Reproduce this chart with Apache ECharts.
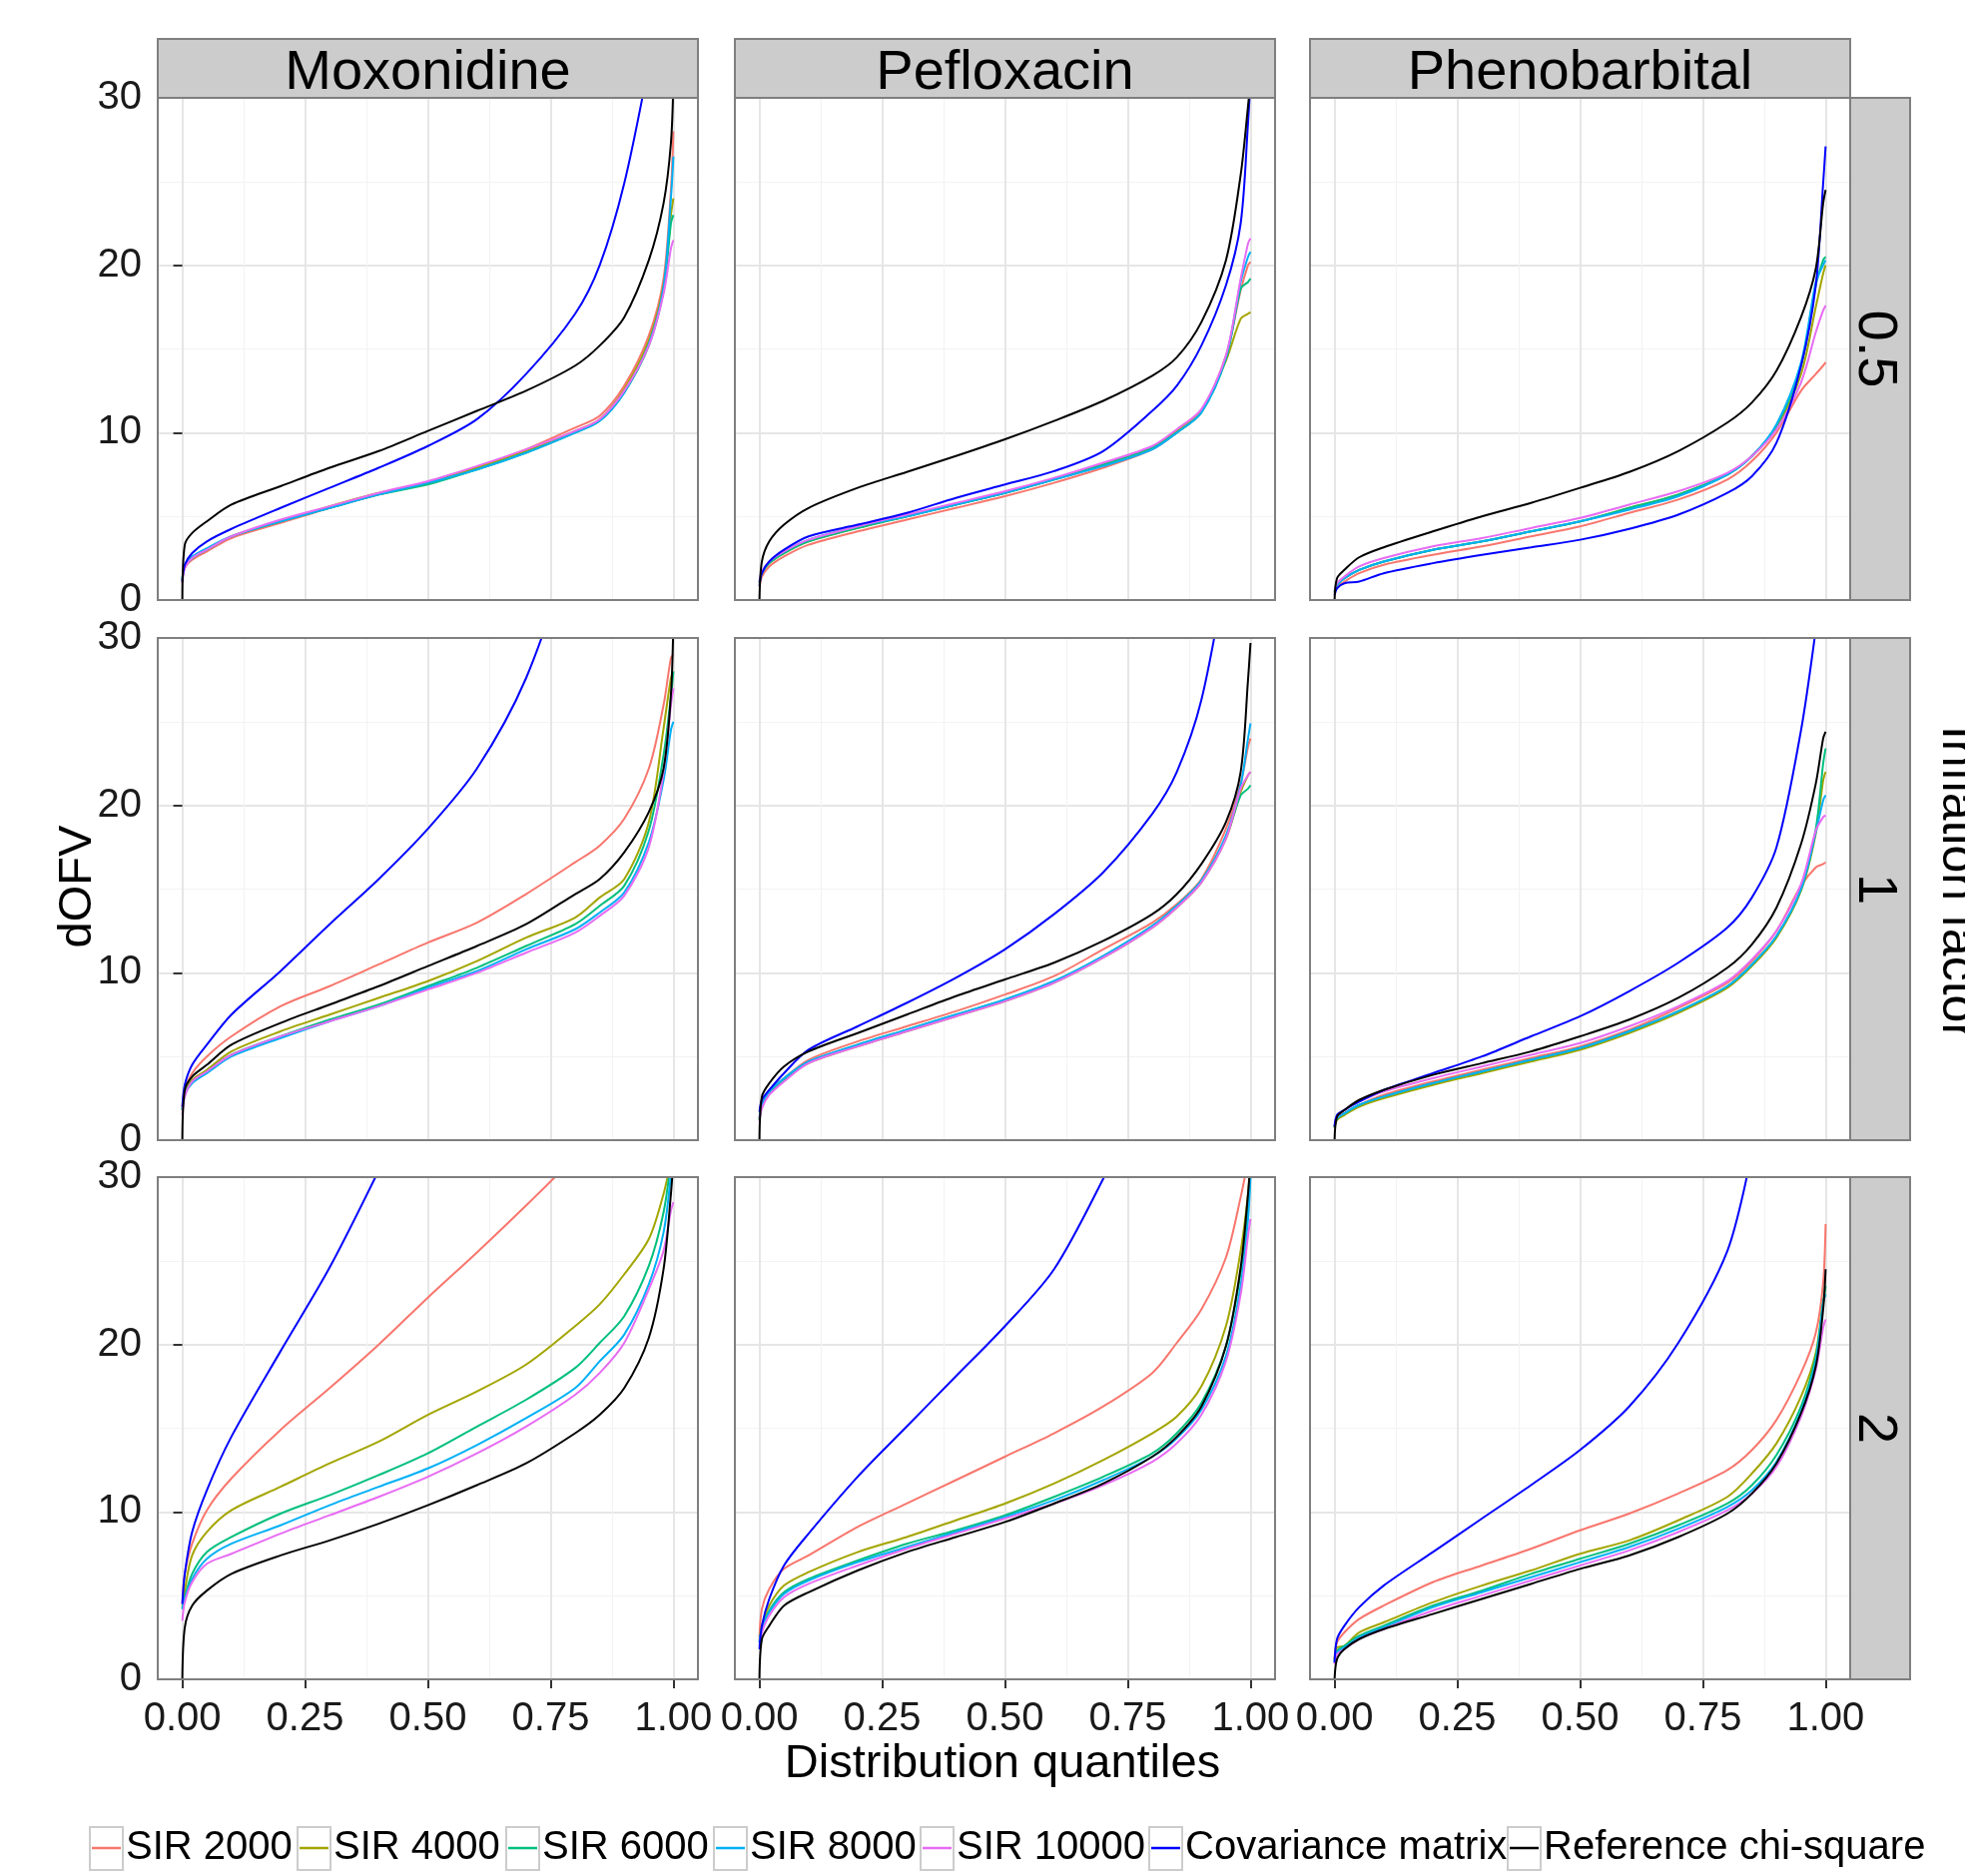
<!DOCTYPE html>
<html><head><meta charset="utf-8">
<script src="https://cdn.jsdelivr.net/npm/echarts@6/dist/echarts.min.js"></script>
<style>html,body{margin:0;padding:0;background:#fff}#c{width:1968px;height:1879px}</style>
</head><body><div id="c"></div>
<script>
// ---------- data ----------
const quantiles = [0, 0.005, 0.02, 0.05, 0.1, 0.2, 0.3, 0.4, 0.5, 0.6, 0.7, 0.8, 0.85, 0.9, 0.95, 0.98, 0.995, 1];
const drugs = ['Moxonidine', 'Pefloxacin', 'Phenobarbital'];
const inflationFactors = ['0.5', '1', '2'];
const seriesNames = ['SIR 2000', 'SIR 4000', 'SIR 6000', 'SIR 8000', 'SIR 10000', 'Covariance matrix', 'Reference chi-square'];
const xTickValues = [0, 0.25, 0.5, 0.75, 1];
const yTickValues = [0, 10, 20, 30];

// each panel: rows in seriesNames order, values at the quantiles above
const moxonidine_0_5 = [
  [1.0, 1.9, 2.4, 2.9, 3.7, 4.6, 5.5, 6.3, 7.0, 7.9, 9.0, 10.3, 11.0, 12.8, 15.8, 19.2, 24.5, 28],
  [1.2, 2.0, 2.5, 3.0, 3.8, 4.7, 5.6, 6.4, 7.0, 7.9, 8.9, 10.1, 10.8, 12.6, 15.5, 18.8, 23.0, 24],
  [1.2, 2.0, 2.5, 3.0, 3.8, 4.7, 5.5, 6.3, 6.9, 7.8, 8.8, 10.0, 10.7, 12.4, 15.2, 18.5, 22.5, 23],
  [1.3, 2.1, 2.6, 3.1, 3.8, 4.7, 5.5, 6.3, 7.0, 7.8, 8.8, 10.0, 10.7, 12.4, 15.3, 18.7, 24.0, 26.5],
  [1.1, 1.9, 2.5, 3.0, 3.8, 4.8, 5.6, 6.4, 7.1, 8.0, 9.0, 10.1, 10.8, 12.5, 15.2, 18.3, 21.0, 21.5],
  [1.1, 2.1, 2.8, 3.5, 4.25, 5.5, 6.7, 7.9, 9.2, 10.8, 13.5, 17.1, 20.0, 24.9, 32],
  [0, 3.3, 4.0, 4.7, 5.7, 6.8, 7.9, 8.9, 10.1, 11.3, 12.5, 14.0, 15.2, 16.9, 20.3, 23.7, 27.3, 31]
];
const pefloxacin_0_5 = [
  [0.8, 1.4, 2.0, 2.6, 3.3, 4.1, 4.8, 5.5, 6.2, 7.0, 7.9, 9.0, 10.0, 11.3, 14.6, 18.5, 20.0, 20.2],
  [1.0, 1.6, 2.2, 2.8, 3.5, 4.3, 5.0, 5.7, 6.4, 7.2, 8.1, 9.1, 10.1, 11.3, 14.3, 16.8, 17.1, 17.2],
  [1.0, 1.6, 2.2, 2.8, 3.5, 4.3, 5.0, 5.7, 6.4, 7.2, 8.1, 9.1, 10.0, 11.2, 14.4, 18.6, 19.0, 19.2],
  [1.1, 1.7, 2.3, 2.9, 3.6, 4.4, 5.0, 5.7, 6.4, 7.2, 8.0, 9.0, 10.0, 11.2, 14.5, 19.0, 20.5, 20.8],
  [1.1, 1.7, 2.3, 2.9, 3.6, 4.4, 5.1, 5.8, 6.5, 7.3, 8.2, 9.2, 10.2, 11.4, 14.6, 19.2, 21.3, 21.6],
  [0.85, 1.6, 2.3, 3.0, 3.8, 4.5, 5.2, 6.1, 6.9, 7.7, 8.9, 11.3, 12.8, 15.2, 18.8, 22.5, 28.5, 31],
  [0, 2.3, 3.5, 4.5, 5.5, 6.7, 7.65, 8.6, 9.6, 10.7, 11.9, 13.4, 14.5, 16.6, 20.3, 25.4, 29.5, 31]
];
const phenobarbital_0_5 = [
  [0.4, 0.8, 1.1, 1.6, 2.1, 2.7, 3.2, 3.8, 4.4, 5.2, 6.0, 7.2, 8.3, 10.0, 12.5, 13.5, 14.0, 14.2],
  [0.5, 0.9, 1.3, 1.8, 2.3, 3.0, 3.5, 4.1, 4.7, 5.5, 6.3, 7.5, 8.6, 10.3, 13.5, 17.5, 19.5, 20],
  [0.5, 0.9, 1.3, 1.8, 2.3, 3.0, 3.5, 4.1, 4.7, 5.5, 6.3, 7.5, 8.6, 10.4, 14.0, 18.8, 20.3, 20.5],
  [0.5, 0.9, 1.3, 1.8, 2.3, 3.0, 3.5, 4.1, 4.7, 5.4, 6.2, 7.5, 8.6, 10.5, 14.2, 19.0, 20.0, 20.3],
  [0.6, 1.0, 1.4, 2.0, 2.5, 3.2, 3.7, 4.3, 4.9, 5.7, 6.5, 7.6, 8.6, 10.2, 13.0, 16.0, 17.3, 17.6],
  [0.3, 0.7, 1.0, 1.1, 1.6, 2.2, 2.7, 3.15, 3.6, 4.25, 5.1, 6.4, 7.4, 9.4, 14.0, 18.8, 24.9, 27.1],
  [0, 1.3, 1.8, 2.55, 3.15, 4.1, 5.0, 5.8, 6.7, 7.65, 8.9, 10.6, 11.8, 13.7, 16.9, 19.8, 23.7, 24.5]
];
const moxonidine_1 = [
  [2.0, 3.0, 4.0, 5.0, 6.2, 8.0, 9.2, 10.5, 11.8, 13.0, 14.7, 16.6, 17.6, 19.2, 22.2, 26.0, 28.8, 29],
  [1.8, 2.8, 3.6, 4.2, 5.3, 6.5, 7.5, 8.5, 9.5, 10.7, 12.1, 13.3, 14.5, 15.6, 19.0, 24.6, 27.6, 28],
  [1.8, 2.7, 3.5, 4.1, 5.1, 6.2, 7.2, 8.1, 9.2, 10.3, 11.6, 12.9, 14.0, 15.2, 18.5, 23.0, 26.5, 28],
  [1.8, 2.7, 3.4, 4.0, 5.0, 6.1, 7.1, 8.0, 9.1, 10.1, 11.4, 12.6, 13.6, 14.8, 17.8, 21.5, 24.5, 25],
  [1.5, 2.6, 3.5, 4.1, 5.1, 6.2, 7.1, 8.0, 9.0, 10.0, 11.2, 12.4, 13.4, 14.6, 17.5, 22.0, 26.0, 27],
  [2.0, 3.3, 4.5, 5.7, 7.5, 10.1, 12.9, 15.6, 18.6, 22.2, 27.6, 36],
  [0, 3.0, 3.8, 4.5, 5.7, 7.0, 8.1, 9.2, 10.4, 11.6, 12.9, 14.7, 15.6, 17.2, 19.6, 22.2, 26.6, 31]
];
const pefloxacin_1 = [
  [1.3, 2.1, 2.9, 3.7, 4.8, 5.9, 6.8, 7.7, 8.7, 9.8, 11.4, 13.0, 14.1, 15.6, 18.6, 21.3, 23.5, 24],
  [1.2, 2.0, 2.8, 3.6, 4.6, 5.6, 6.5, 7.4, 8.3, 9.4, 10.9, 12.7, 13.9, 15.4, 18.0, 20.8, 21.8, 22],
  [1.2, 2.0, 2.8, 3.6, 4.65, 5.7, 6.6, 7.5, 8.4, 9.5, 11.0, 12.8, 14.0, 15.5, 18.1, 20.6, 21.0, 21.2],
  [1.3, 2.1, 2.9, 3.7, 4.7, 5.7, 6.6, 7.5, 8.4, 9.5, 11.0, 12.8, 14.0, 15.5, 18.2, 21.2, 24.0, 24.9],
  [1.1, 1.9, 2.7, 3.5, 4.6, 5.6, 6.5, 7.4, 8.3, 9.4, 10.9, 12.7, 13.9, 15.4, 18.0, 21.0, 21.8, 22],
  [1.7, 2.4, 3.0, 4.0, 5.4, 6.8, 8.2, 9.7, 11.4, 13.5, 16.0, 19.5, 22.0, 26.3, 34],
  [0, 2.6, 3.4, 4.4, 5.3, 6.4, 7.5, 8.6, 9.6, 10.6, 11.9, 13.5, 14.7, 16.5, 19.0, 22.0, 27.5, 29.7]
];
const phenobarbital_1 = [
  [0.8, 1.3, 1.6, 2.1, 2.7, 3.5, 4.2, 4.9, 5.6, 6.6, 7.9, 9.4, 10.7, 12.5, 15.2, 16.3, 16.5, 16.6],
  [0.7, 1.2, 1.5, 2.0, 2.5, 3.3, 4.0, 4.7, 5.4, 6.4, 7.6, 9.1, 10.4, 12.1, 14.9, 18.3, 21.5, 22],
  [0.8, 1.3, 1.6, 2.1, 2.6, 3.4, 4.1, 4.8, 5.5, 6.5, 7.7, 9.2, 10.5, 12.2, 15.0, 18.6, 22.5, 23.4],
  [0.8, 1.3, 1.6, 2.1, 2.6, 3.4, 4.1, 4.8, 5.5, 6.5, 7.7, 9.2, 10.5, 12.2, 15.0, 18.4, 20.3, 20.6],
  [0.9, 1.4, 1.8, 2.3, 2.9, 3.7, 4.4, 5.1, 5.8, 6.8, 8.0, 9.5, 10.8, 12.5, 15.3, 18.5, 19.3, 19.4],
  [0.8, 1.5, 1.8, 2.3, 3.0, 4.0, 5.0, 6.2, 7.4, 8.9, 10.6, 12.7, 14.5, 17.5, 24.5, 30.5, 34],
  [0, 1.4, 1.8, 2.4, 3.0, 3.9, 4.6, 5.3, 6.2, 7.2, 8.5, 10.3, 11.7, 13.9, 17.7, 21.3, 24.0, 24.4]
];
const moxonidine_2 = [
  [4.5, 6.3, 8.1, 10.1, 12.0, 14.9, 17.4, 20.0, 22.8, 25.5, 28.3, 31.2],
  [4.3, 5.3, 7.4, 8.8, 10.1, 11.5, 12.9, 14.2, 15.8, 17.2, 18.8, 21.1, 22.4, 24.2, 26.3, 29.0, 31],
  [4.2, 4.9, 6.3, 7.6, 8.5, 9.9, 11.0, 12.2, 13.5, 15.1, 16.7, 18.6, 20.1, 21.7, 24.7, 27.9, 31],
  [4.2, 4.8, 6.0, 7.2, 8.1, 9.2, 10.4, 11.5, 12.6, 14.0, 15.6, 17.4, 19.0, 20.6, 23.6, 26.7, 30.2],
  [3.5, 4.6, 5.8, 6.9, 7.5, 8.7, 9.8, 10.9, 12.1, 13.5, 15.1, 17.0, 18.3, 20.1, 23.3, 25.6, 28, 28.5],
  [4.5, 6.3, 8.8, 11.3, 14.5, 19.6, 24.6, 30.4],
  [0, 3.1, 4.4, 5.3, 6.3, 7.4, 8.3, 9.3, 10.4, 11.6, 12.9, 14.7, 15.8, 17.4, 20.4, 24.5, 29.0, 31]
];
const pefloxacin_2 = [
  [2.5, 4.2, 5.4, 6.6, 7.4, 9.1, 10.5, 11.9, 13.3, 14.7, 16.3, 18.3, 20.1, 22.1, 25.2, 28.8, 31],
  [2.3, 3.2, 4.4, 5.6, 6.4, 7.6, 8.5, 9.5, 10.5, 11.7, 13.1, 14.7, 15.7, 17.5, 21.1, 25.6, 29.0, 31],
  [2.2, 3.0, 4.1, 5.2, 6.0, 7.1, 8.1, 8.9, 9.8, 10.9, 12.1, 13.5, 14.7, 16.5, 19.9, 24.3, 28.2, 30.5],
  [2.2, 3.0, 4.0, 5.1, 5.9, 7.0, 7.9, 8.8, 9.7, 10.7, 11.9, 13.3, 14.4, 16.1, 19.3, 23.5, 27.5, 30],
  [2.0, 2.8, 3.8, 4.9, 5.7, 6.8, 7.8, 8.7, 9.6, 10.5, 11.6, 13.0, 14.1, 15.8, 19.0, 23.0, 26.5, 27.5],
  [1.8, 3.2, 4.8, 6.8, 8.7, 12.1, 15.1, 18.1, 21.1, 24.5, 29.9, 36],
  [0, 2.4, 3.2, 4.4, 5.2, 6.5, 7.6, 8.5, 9.4, 10.5, 11.7, 13.3, 14.5, 16.3, 19.9, 24.6, 29, 31]
];
const phenobarbital_2 = [
  [1.2, 2.2, 2.8, 3.6, 4.4, 5.8, 6.8, 7.8, 8.9, 9.9, 11.1, 12.5, 13.7, 15.5, 18.3, 20.7, 23.7, 27.2],
  [1.2, 1.9, 2.0, 2.8, 3.4, 4.6, 5.6, 6.5, 7.5, 8.3, 9.5, 10.9, 12.3, 14.1, 16.9, 19.5, 22.6, 23],
  [1.1, 1.7, 2.0, 2.6, 3.2, 4.4, 5.3, 6.3, 7.2, 8.1, 9.2, 10.5, 11.6, 13.4, 16.3, 19.3, 22.5, 23.5],
  [1.0, 1.6, 1.9, 2.5, 3.1, 4.3, 5.2, 6.1, 7.0, 7.9, 9.0, 10.3, 11.3, 13.0, 16.0, 19.0, 22.5, 23],
  [0.9, 1.5, 1.8, 2.4, 3.0, 4.1, 5.0, 5.9, 6.8, 7.7, 8.8, 10.1, 11.1, 12.7, 15.7, 18.5, 21.0, 21.5],
  [1.0, 2.4, 3.2, 4.3, 5.6, 7.6, 9.6, 11.6, 13.7, 16.3, 20.1, 25.6, 31.5],
  [0, 1.2, 1.8, 2.4, 3.0, 3.9, 4.8, 5.7, 6.6, 7.4, 8.5, 9.9, 11.1, 12.9, 15.9, 18.7, 22.1, 24.5]
];

const panelData = [
  [moxonidine_0_5, pefloxacin_0_5, phenobarbital_0_5],
  [moxonidine_1, pefloxacin_1, phenobarbital_1],
  [moxonidine_2, pefloxacin_2, phenobarbital_2]
];

// ---------- styling / layout ----------
const seriesColors = ['#F8766D', '#A3A500', '#00BF7D', '#00B0F6', '#E76BF3', '#0000FF', '#000000'];
const FONT = '"Liberation Sans", Arial, Helvetica, sans-serif';
const colLeft = [158, 736, 1312];
const rowTop = [98, 639, 1179];
const PW = 541, PH = 503;
const XMIN = -0.05, XMAX = 1.05;
const BORDER = '#7f7f7f';
const MAJOR = '#e6e6e6', MINOR = '#f3f3f3';

const grids = [], xAxes = [], yAxes = [], series = [], graphics = [];
const xStep = xTickValues[1] - xTickValues[0];
const yStep = yTickValues[1] - yTickValues[0];

for (let r = 0; r < 3; r++) {
  for (let c = 0; c < 3; c++) {
    const g = grids.length;
    const left = colLeft[c], top = rowTop[r];
    const innerLeft = left + PW * (xTickValues[0] - XMIN) / (XMAX - XMIN);
    const innerW = PW * (xTickValues[xTickValues.length - 1] - xTickValues[0]) / (XMAX - XMIN);
    grids.push({left: left, top: top, width: PW, height: PH, show: true, backgroundColor: '#fff',
      borderWidth: 0, containLabel: false, outerBoundsMode: 'none'});
    grids.push({left: innerLeft, top: top, width: innerW, height: PH, show: false,
      containLabel: false, outerBoundsMode: 'none'});
    xAxes.push({gridIndex: g, type: 'value', min: XMIN, max: XMAX, show: false});
    yAxes.push({gridIndex: g, type: 'value', min: yTickValues[0], max: yTickValues[yTickValues.length - 1],
      interval: yStep,
      axisLine: {show: false},
      axisTick: {show: c === 0, inside: false, length: 9, lineStyle: {color: '#333', width: 2}},
      axisLabel: {show: c === 0, fontSize: 40, color: '#1a1a1a', fontFamily: FONT, margin: 16},
      splitLine: {show: true, showMinLine: false, showMaxLine: false, lineStyle: {color: MAJOR, width: 2}},
      minorTick: {show: false, splitNumber: 2},
      minorSplitLine: {show: true, lineStyle: {color: MINOR, width: 1.2}}
    });
    xAxes.push({gridIndex: g + 1, type: 'value', min: xTickValues[0], max: xTickValues[xTickValues.length - 1],
      interval: xStep,
      axisLine: {show: false},
      axisTick: {show: r === 2, inside: false, length: 9, lineStyle: {color: '#333', width: 2}},
      axisLabel: {show: r === 2, fontSize: 40, color: '#1a1a1a', fontFamily: FONT, margin: 20,
        formatter: v => v.toFixed(2)},
      splitLine: {show: true, lineStyle: {color: MAJOR, width: 2}},
      minorTick: {show: false, splitNumber: 2},
      minorSplitLine: {show: true, lineStyle: {color: MINOR, width: 1.2}}
    });
    yAxes.push({gridIndex: g + 1, type: 'value', min: yTickValues[0], max: yTickValues[yTickValues.length - 1], show: false});

    const pd = panelData[r][c];
    for (let s = 0; s < seriesNames.length; s++) {
      const vals = pd[s];
      series.push({
        name: seriesNames[s], type: 'line', xAxisIndex: g + 1, yAxisIndex: g + 1,
        data: vals.map((v, i) => [quantiles[i], v]),
        showSymbol: false, symbol: 'none', smooth: 0.3, clip: true,
        lineStyle: {color: seriesColors[s], width: 2},
        itemStyle: {color: seriesColors[s]},
        emphasis: {disabled: true}, silent: true, animation: false, z: 2
      });
    }
    graphics.push({type: 'rect', z: 50, silent: true,
      shape: {x: left, y: top, width: PW, height: PH},
      style: {fill: 'none', stroke: BORDER, lineWidth: 2}});
  }
}

// column strips
for (let c = 0; c < 3; c++) {
  graphics.push({type: 'rect', z: 40, silent: true,
    shape: {x: colLeft[c], y: 39, width: PW, height: rowTop[0] - 39},
    style: {fill: '#cccccc', stroke: BORDER, lineWidth: 2}});
  graphics.push({type: 'text', z: 41, silent: true, x: colLeft[c] + PW / 2, y: 74,
    style: {text: drugs[c], font: '56px ' + FONT, fill: '#000', align: 'center', verticalAlign: 'middle'}});
}
// row strips
for (let r = 0; r < 3; r++) {
  graphics.push({type: 'rect', z: 40, silent: true,
    shape: {x: 1853, y: rowTop[r], width: 60, height: PH},
    style: {fill: '#cccccc', stroke: BORDER, lineWidth: 2}});
  graphics.push({type: 'text', z: 41, silent: true, x: 1877, y: rowTop[r] + PH / 2, rotation: -Math.PI / 2,
    style: {text: inflationFactors[r], font: '56px ' + FONT, fill: '#000', align: 'center', verticalAlign: 'middle'}});
}
// axis titles
graphics.push({type: 'text', z: 41, silent: true, x: 1004, y: 1767,
  style: {text: 'Distribution quantiles', font: '47px ' + FONT, fill: '#000', align: 'center', verticalAlign: 'middle'}});
graphics.push({type: 'text', z: 41, silent: true, x: 78, y: 888, rotation: Math.PI / 2,
  style: {text: 'dOFV', font: '47px ' + FONT, fill: '#000', align: 'center', verticalAlign: 'middle'}});
graphics.push({type: 'text', z: 41, silent: true, x: 1960, y: 884, rotation: -Math.PI / 2,
  style: {text: 'Inflation factor', font: '50px ' + FONT, fill: '#000', align: 'center', verticalAlign: 'middle'}});

// legend key boxes + one legend component per entry
const keyLeft = [90, 298, 507, 715, 922, 1151, 1510];
const legends = [];
for (let i = 0; i < seriesNames.length; i++) {
  graphics.push({type: 'rect', z: 1, silent: true,
    shape: {x: keyLeft[i], y: 1830, width: 33, height: 43},
    style: {fill: '#fff', stroke: '#cccccc', lineWidth: 2}});
  legends.push({
    data: [seriesNames[i]], left: keyLeft[i] + 2, top: 1831, padding: 0, orient: 'horizontal',
    icon: 'rect', itemWidth: 29, itemHeight: 2.5, selectedMode: false, z: 10,
    textStyle: {fontSize: 40, color: '#000', fontFamily: FONT, padding: [0, 0, 0, 0]}
  });
}

const chart = echarts.init(document.getElementById('c'), null, {renderer: 'canvas'});
chart.setOption({
  backgroundColor: '#ffffff',
  animation: false,
  textStyle: {fontFamily: FONT},
  grid: grids, xAxis: xAxes, yAxis: yAxes,
  legend: legends,
  series: series,
  graphic: {elements: graphics}
});
</script></body></html>
